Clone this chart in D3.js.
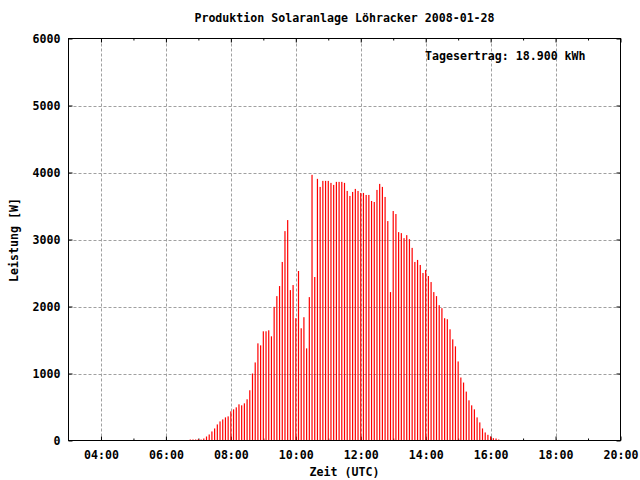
<!DOCTYPE html>
<html>
<head>
<meta charset="utf-8">
<script src="https://cdn.jsdelivr.net/npm/d3@7"></script>
<style>
  html, body { margin: 0; padding: 0; background: #fff; }
  text { font-family: "DejaVu Sans Mono", "Liberation Mono", monospace; font-weight: bold; font-size: 11.6px; fill: #000; }
</style>
</head>
<body>
<svg id="chart" width="640" height="480"></svg>
<script>
const title = "Produktion Solaranlage Löhracker 2008-01-28";
const annotation = "Tagesertrag: 18.900 kWh";
const xLabel = "Zeit (UTC)";
const yLabel = "Leistung [W]";

const times = [
  "06:45","06:50","06:55","07:00","07:05","07:10","07:15","07:20","07:25","07:30","07:35","07:40","07:45","07:50","07:55",
  "08:00","08:05","08:10","08:15","08:20","08:25","08:30","08:35","08:40","08:45","08:50","08:55",
  "09:00","09:05","09:10","09:15","09:20","09:25","09:30","09:35","09:40","09:45","09:50","09:55",
  "10:00","10:05","10:10","10:15","10:20","10:25","10:30","10:35","10:40","10:45","10:50","10:55",
  "11:00","11:05","11:10","11:15","11:20","11:25","11:30","11:35","11:40","11:45","11:50","11:55",
  "12:00","12:05","12:10","12:15","12:20","12:25","12:30","12:35","12:40","12:45","12:50","12:55",
  "13:00","13:05","13:10","13:15","13:20","13:25","13:30","13:35","13:40","13:45","13:50","13:55",
  "14:00","14:05","14:10","14:15","14:20","14:25","14:30","14:35","14:40","14:45","14:50","14:55",
  "15:00","15:05","15:10","15:15","15:20","15:25","15:30","15:35","15:40","15:45","15:50","15:55",
  "16:00","16:05","16:10","16:15"
];
const power = [
  15,15,15,20,15,30,60,90,135,180,240,285,315,345,360,
  435,465,495,540,525,555,615,750,1000,1165,1450,1420,
  1630,1630,1645,1555,1995,2155,2305,2665,3125,3290,2245,2320,
  1825,2530,1675,1840,1375,2140,3965,2440,3905,3785,3875,3875,
  3875,3845,3815,3860,3860,3860,3845,3725,3650,3710,3755,3725,
  3695,3695,3665,3665,3575,3560,3740,3830,3785,3635,3275,2215,
  3425,3380,3110,3095,3020,3065,3005,2875,2665,2695,2620,2500,
  2545,2455,2365,2215,2155,2020,1975,1825,1810,1660,1510,1405,
  1180,940,865,730,600,525,465,345,270,180,120,85,
  60,35,30,15
];
const xTickLabels = ["04:00","06:00","08:00","10:00","12:00","14:00","16:00","18:00","20:00"];
const xMinorTicks = ["05:00","07:00","09:00","11:00","13:00","15:00","17:00","19:00"];
const yTicks = [0,1000,2000,3000,4000,5000,6000];
const xDomain = ["03:00","20:00"];
const yDomain = [0,6000];

const parseT = d3.timeParse("%H:%M");
const svg = d3.select("#chart");
const L = 68.5, R = 620.5, T = 38.5, B = 440.5;

const x = d3.scaleTime().domain(xDomain.map(parseT)).range([L, R]);
const y = d3.scaleLinear().domain(yDomain).range([B, T]);

// grid
const grid = svg.append("g").attr("stroke", "#a0a0a0").attr("stroke-width", 1).attr("stroke-dasharray", "3,2");
grid.selectAll("line.gx").data(xTickLabels.slice(0, -1)).join("line")
  .attr("x1", d => Math.round(x(parseT(d))) + 0.5).attr("x2", d => Math.round(x(parseT(d))) + 0.5)
  .attr("y1", T).attr("y2", B);
grid.selectAll("line.gy").data(yTicks.slice(1, -1)).join("line")
  .attr("x1", L).attr("x2", R)
  .attr("y1", d => Math.round(y(d)) + 0.5).attr("y2", d => Math.round(y(d)) + 0.5);

// ticks (bottom/top, left/right) via d3 axes
const fmt = d3.timeFormat("%H:%M");
const xMajor = d3.axisBottom(x).tickValues(xTickLabels.map(parseT)).tickFormat(fmt).tickSizeInner(-4).tickSizeOuter(0).tickPadding(8);
const xMinor = d3.axisBottom(x).tickValues(xMinorTicks.map(parseT)).tickFormat("").tickSizeInner(-2).tickSizeOuter(0);
const xMajorTop = d3.axisTop(x).tickValues(xTickLabels.map(parseT)).tickFormat("").tickSizeInner(-4).tickSizeOuter(0);
const xMinorTop = d3.axisTop(x).tickValues(xMinorTicks.map(parseT)).tickFormat("").tickSizeInner(-2).tickSizeOuter(0);
const yLeft = d3.axisLeft(y).tickValues(yTicks).tickFormat(d3.format("d")).tickSizeInner(-4).tickSizeOuter(0).tickPadding(8);
const yRight = d3.axisRight(y).tickValues(yTicks).tickFormat("").tickSizeInner(-4).tickSizeOuter(0);

function style(g) {
  g.select(".domain").remove();
  g.selectAll(".tick line").attr("stroke", "#000");
  g.selectAll("text").attr("font-family", null).attr("font-size", null);
}
const gxb = svg.append("g").attr("transform", `translate(0,${B})`).call(xMajor).call(style);
gxb.selectAll("text").attr("dy", "0.71em").attr("y", 10);
svg.append("g").attr("transform", `translate(0,${B})`).call(xMinor).call(style);
svg.append("g").attr("transform", `translate(0,${T})`).call(xMajorTop).call(style);
svg.append("g").attr("transform", `translate(0,${T})`).call(xMinorTop).call(style);
const gyl = svg.append("g").attr("transform", `translate(${L},0)`).call(yLeft).call(style);
gyl.selectAll("text").attr("x", -8);
svg.append("g").attr("transform", `translate(${R},0)`).call(yRight).call(style);

// bars (impulses)
svg.append("g")
  .selectAll("rect").data(times.map((t, i) => ({t: parseT(t), v: power[i]}))).join("rect")
  .attr("x", d => x(d.t) - 0.6)
  .attr("width", 1.2)
  .attr("y", d => y(d.v))
  .attr("height", d => y(0) - y(d.v))
  .attr("fill", "#ff0000");

// frame
svg.append("rect").attr("x", L).attr("y", T).attr("width", R - L).attr("height", B - T)
  .attr("fill", "none").attr("stroke", "#000").attr("stroke-width", 1);

// texts
svg.append("text").attr("x", (L + R) / 2).attr("y", 22).attr("text-anchor", "middle").text(title);
svg.append("text").attr("x", 425).attr("y", 60).text(annotation);
svg.append("text").attr("x", (L + R) / 2).attr("y", 476).attr("text-anchor", "middle").text(xLabel);
svg.append("text").attr("transform", "translate(18,240) rotate(-90)").attr("text-anchor", "middle").text(yLabel);
</script>
</body>
</html>
